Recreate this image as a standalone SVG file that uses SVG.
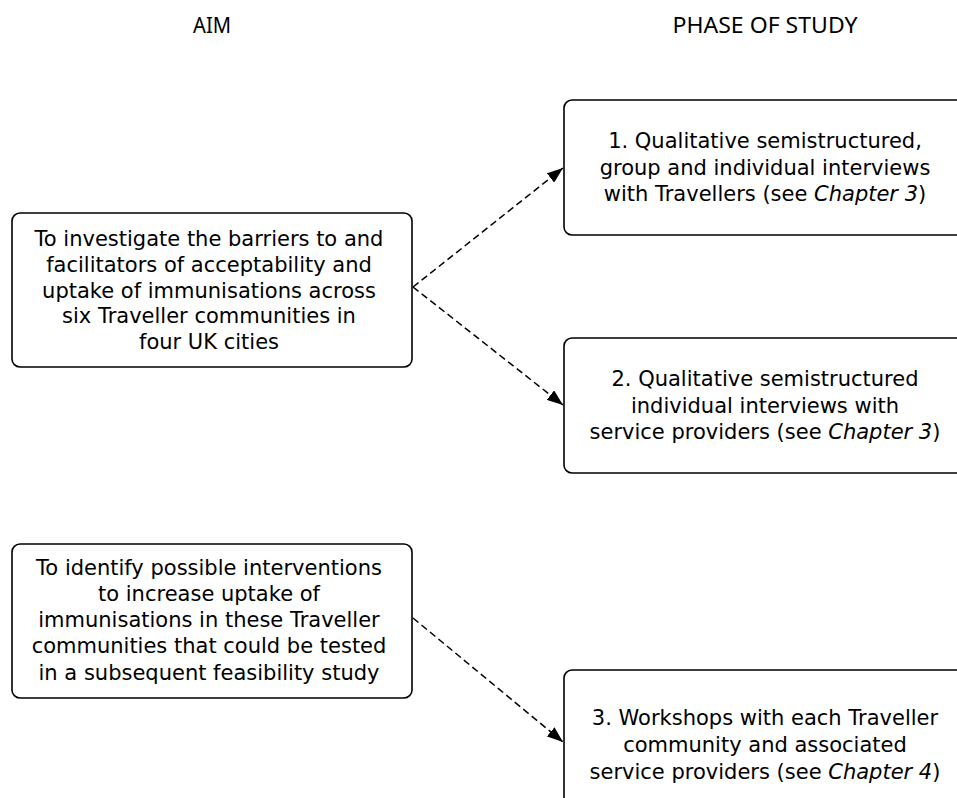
<svg xmlns="http://www.w3.org/2000/svg" width="957" height="798" viewBox="0 0 957 798">
<defs>
<style>
.box{fill:#fff;stroke:#000;stroke-width:1.6}
.t{font-family:"DejaVu Sans","Noto Sans",sans-serif;font-size:21px;fill:#000;text-anchor:middle}
.h{font-family:"Noto Sans","Open Sans","DejaVu Sans",sans-serif;font-size:21px;fill:#000;text-anchor:middle}
.c{fill:none;stroke:#000;stroke-width:1.5;stroke-dasharray:7 4}
.i{font-style:italic}
</style>
<marker id="ah2" viewBox="0 0 16 12" refX="16" refY="6" markerWidth="16" markerHeight="12" markerUnits="userSpaceOnUse" orient="auto">
<path d="M0,0 L16,6 L0,12 z" fill="#000"/>
</marker>
</defs>
<g id="headers">
<text class="h" x="212" y="33" textLength="38" lengthAdjust="spacingAndGlyphs">AIM</text>
<text class="h" x="765" y="33" textLength="185" lengthAdjust="spacingAndGlyphs">PHASE OF STUDY</text>
</g>
<g id="aim1">
<rect class="box" x="12" y="213" width="400" height="154" rx="8"/>
<text class="t" x="209" y="246">To investigate the barriers to and</text>
<text class="t" x="209" y="272">facilitators of acceptability and</text>
<text class="t" x="209" y="298">uptake of immunisations across</text>
<text class="t" x="209" y="323">six Traveller communities in</text>
<text class="t" x="209" y="349">four UK cities</text>
</g>
<g id="aim2">
<rect class="box" x="12" y="544" width="400" height="154" rx="8"/>
<text class="t" x="209" y="575">To identify possible interventions</text>
<text class="t" x="209" y="601">to increase uptake of</text>
<text class="t" x="209" y="627">immunisations in these Traveller</text>
<text class="t" x="209" y="653">communities that could be tested</text>
<text class="t" x="209" y="680">in a subsequent feasibility study</text>
</g>
<g id="phase1">
<rect class="box" x="564" y="100" width="410" height="135" rx="8"/>
<text class="t" x="765" y="148">1. Qualitative semistructured,</text>
<text class="t" x="765" y="175">group and individual interviews</text>
<text class="t" x="765" y="201">with Travellers (see <tspan class="i">Chapter 3</tspan>)</text>
</g>
<g id="phase2">
<rect class="box" x="564" y="338" width="410" height="135" rx="8"/>
<text class="t" x="765" y="386">2. Qualitative semistructured</text>
<text class="t" x="765" y="413">individual interviews with</text>
<text class="t" x="765" y="439">service providers (see <tspan class="i">Chapter 3</tspan>)</text>
</g>
<g id="phase3">
<rect class="box" x="564" y="670" width="410" height="150" rx="8"/>
<text class="t" x="765" y="725">3. Workshops with each Traveller</text>
<text class="t" x="765" y="752">community and associated</text>
<text class="t" x="765" y="779">service providers (see <tspan class="i">Chapter 4</tspan>)</text>
</g>
<g id="connectors">
<line class="c" x1="413" y1="287" x2="563" y2="168" marker-end="url(#ah2)"/>
<line class="c" x1="413" y1="287" x2="563" y2="405" marker-end="url(#ah2)"/>
<line class="c" x1="413" y1="618" x2="563" y2="742" marker-end="url(#ah2)"/>
</g>
</svg>
